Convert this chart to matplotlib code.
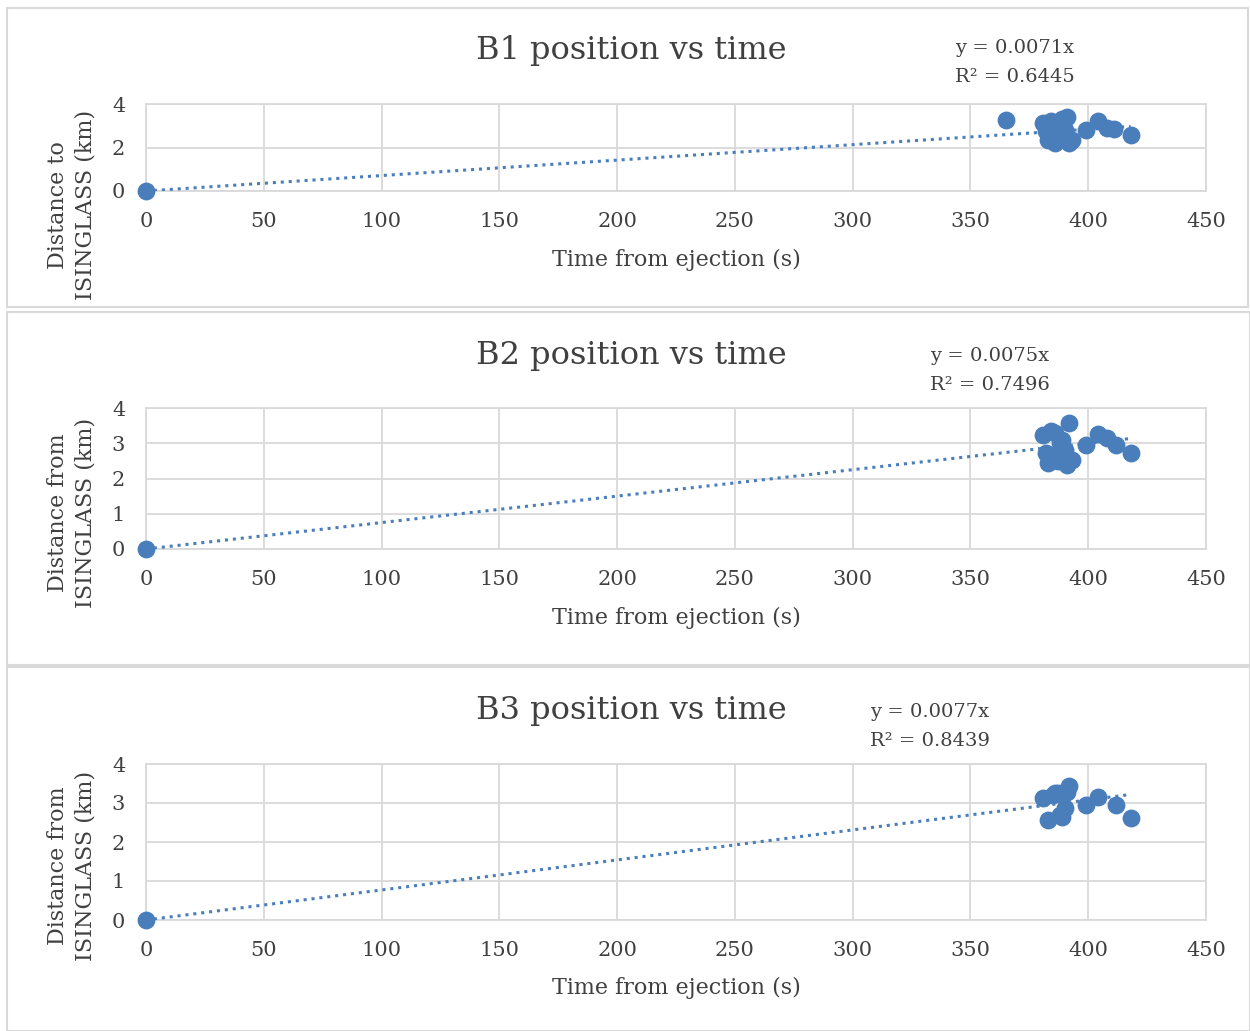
import matplotlib
matplotlib.use("Agg")
import matplotlib.pyplot as plt
from matplotlib.patches import Rectangle
import numpy as np

plt.rcParams['font.family'] = ['DejaVu Serif', 'Liberation Serif']

# ---- data ----
b1_time = [0, 365, 381, 382, 383, 384, 385, 386, 387, 388, 389, 390, 391, 392, 393, 399, 404, 408, 411, 418]
b1_dist = [0, 3.26, 3.13, 2.75, 2.34, 3.20, 2.60, 2.20, 3.05, 2.50, 3.30, 2.80, 3.40, 2.20, 2.34, 2.80, 3.22, 2.90, 2.85, 2.57]
b2_time = [0, 381, 382, 383, 384, 385, 386, 387, 388, 389, 390, 391, 392, 393, 399, 404, 408, 412, 418]
b2_dist = [0, 3.23, 2.72, 2.44, 3.35, 2.60, 3.30, 2.50, 3.00, 3.10, 2.80, 2.38, 3.57, 2.52, 2.95, 3.26, 3.15, 2.95, 2.72]
b3_time = [0, 381, 383, 385, 386, 387, 388, 389, 390, 391, 392, 399, 404, 412, 418]
b3_dist = [0, 3.13, 2.56, 3.20, 3.26, 3.25, 2.70, 2.64, 2.87, 3.28, 3.43, 2.95, 3.15, 2.95, 2.62]

slopes = [0.0071, 0.0075, 0.0077]
r2 = ["0.6445", "0.7496", "0.8439"]
titles = ["B1 position vs time", "B2 position vs time", "B3 position vs time"]
ylabels = ["Distance to\nISINGLASS (km)", "Distance from\nISINGLASS (km)", "Distance from\nISINGLASS (km)"]
xlabel = "Time from ejection (s)"
xticks = [0, 50, 100, 150, 200, 250, 300, 350, 400, 450]
yticks = [[0, 2, 4], [0, 1, 2, 3, 4], [0, 1, 2, 3, 4]]

W, H = 1250, 1031
fig = plt.figure(figsize=(W / 100, H / 100), dpi=100)

def fx(px):
    return px / W

def fy(py):
    return 1 - py / H

# panel borders (pixel coords: x0, y0, x1, y1)
panels = [(7, 8, 1248, 307), (7, 312, 1250, 665), (7, 667, 1250, 1031)]
for (x0, y0, x1, y1) in panels:
    fig.patches.append(Rectangle((fx(x0), fy(y1)), fx(x1 - x0), (y1 - y0) / H,
                                 transform=fig.transFigure, fill=False,
                                 edgecolor='#d9d9d9', linewidth=1.5))

# axes (pixel): left, right, top, bottom
axes_px = [(146, 1206, 104, 191), (146, 1206, 408, 549), (146, 1206, 764, 920)]
titles_y = [50, 355, 711]
eq_pos = [(955, 48), (930, 356), (870, 712)]
ylab_y = [205, 513, 866]
xlab_y = [260, 618, 988]

data = [(b1_time, b1_dist), (b2_time, b2_dist), (b3_time, b3_dist)]
blue = '#4a7ebb'
grid_c = '#d9d9d9'
txt_c = '#404040'

for i in range(3):
    l, r, t, b = axes_px[i]
    ax = fig.add_axes([fx(l), fy(b), (r - l) / W, (b - t) / H])
    tx, dy = data[i]
    ax.set_xlim(0, 450)
    ax.set_ylim(0, 4)
    ax.set_xticks(xticks)
    ax.set_yticks(yticks[i])
    ax.grid(True, color=grid_c, linewidth=1.3)
    ax.set_axisbelow(True)
    for s in ax.spines.values():
        s.set_color(grid_c)
        s.set_linewidth(1.3)
    ax.tick_params(length=0, labelsize=15, colors=txt_c)
    ax.tick_params(axis='x', pad=15)
    ax.tick_params(axis='y', pad=15)
    xs = np.array([0, max(tx)])
    ax.plot(xs, slopes[i] * xs, linestyle=(0, (1, 1.6)), color=blue, linewidth=2.2, zorder=3)
    ax.scatter(tx, dy, s=140, color=blue, zorder=4, clip_on=False)

    fig.text(fx(631), fy(titles_y[i]), titles[i], ha='center', va='center',
             fontsize=23, color=txt_c)
    ex, ey = eq_pos[i]
    fig.text(fx(ex), fy(ey), f"y = {slopes[i]:.4f}x", ha='left', va='center',
             fontsize=14, color=txt_c)
    fig.text(fx(ex), fy(ey + 29), f"R\u00b2 = {r2[i]}", ha='left', va='center',
             fontsize=14, color=txt_c)
    fig.text(fx(72), fy(ylab_y[i]), ylabels[i], rotation=90, ha='center', va='center',
             fontsize=16, color=txt_c, linespacing=1.3)
    fig.text(fx(676), fy(xlab_y[i]), xlabel, ha='center', va='center',
             fontsize=16, color=txt_c)

fig.savefig("out.png", dpi=100, facecolor='white')
